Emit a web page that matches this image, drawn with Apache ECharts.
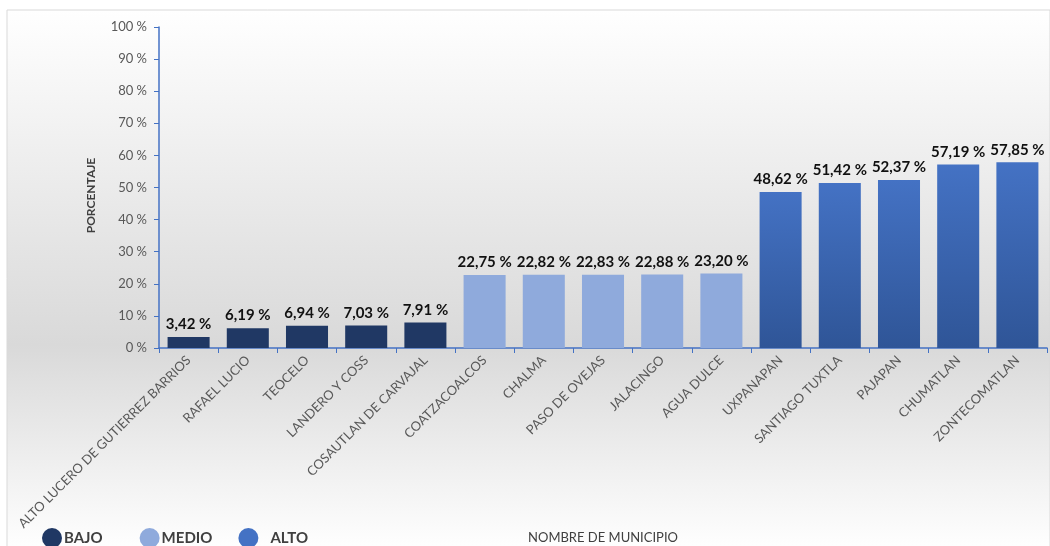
<!DOCTYPE html>
<html>
<head>
<meta charset="utf-8">
<script src="https://cdn.jsdelivr.net/npm/echarts@6/dist/echarts.min.js"></script>
<style>
  html, body { margin: 0; padding: 0; background: #fff; }
  #chart { width: 1050px; height: 546px; }
</style>
</head>
<body>
<div id="chart"></div>
<script>
const municipios = [
  'ALTO LUCERO DE GUTIERREZ BARRIOS', 'RAFAEL LUCIO', 'TEOCELO', 'LANDERO Y COSS',
  'COSAUTLAN DE CARVAJAL', 'COATZACOALCOS', 'CHALMA', 'PASO DE OVEJAS', 'JALACINGO',
  'AGUA DULCE', 'UXPANAPAN', 'SANTIAGO TUXTLA', 'PAJAPAN', 'CHUMATLAN', 'ZONTECOMATLAN',
]
const bajo = [3.42, 6.19, 6.94, 7.03, 7.91, null, null, null, null, null, null, null, null, null, null]
const medio = [null, null, null, null, null, 22.75, 22.82, 22.83, 22.88, 23.20, null, null, null, null, null]
const alto = [null, null, null, null, null, null, null, null, null, null, 48.62, 51.42, 52.37, 57.19, 57.85]
const yTicks = [0, 10, 20, 30, 40, 50, 60, 70, 80, 90, 100]

const font = 'Lato, "Open Sans", sans-serif'
const colors = {
  bajo: '#203864',
  medio: '#8faadc',
  alto: new echarts.graphic.LinearGradient(0, 0, 0, 1, [
    { offset: 0, color: '#4472c4' },
    { offset: 1, color: '#2f5597' },
  ]),
  altoLegend: '#4472c4',
}

function fmt(v) {
  return v.toFixed(2).replace('.', ',') + ' %'
}

function barSeries(name, data, color) {
  return {
    name,
    type: 'bar',
    stack: 'total',
    data,
    barWidth: '71%',
    itemStyle: { color },
    label: {
      show: true,
      position: 'top',
      distance: 5,
      fontFamily: font,
      fontWeight: 'bold',
      fontSize: 15,
      color: '#111',
      formatter: (p) => fmt(p.value),
    },
  }
}

const chart = echarts.init(document.getElementById('chart'))
chart.setOption({
  animation: false,
  graphic: [
    {
      type: 'rect',
      z: -10,
      silent: true,
      shape: { x: 7, y: 10, width: 1043, height: 540 },
      style: {
        stroke: '#d9d9d9',
        lineWidth: 1,
        fill: new echarts.graphic.LinearGradient(0, 0, 0, 1, [
          { offset: 0, color: '#ffffff' },
          { offset: 0.62, color: '#d9d9d9' },
          { offset: 1, color: '#ffffff' },
        ]),
      },
    },
  ],
  legend: {
    left: 37,
    top: 523,
    itemWidth: 20,
    itemHeight: 20,
    itemGap: 26,
    icon: 'circle',
    formatter: (name) => (name === 'BAJO' ? name + '   ' : name),
    data: [
      { name: 'BAJO', itemStyle: { color: colors.bajo } },
      { name: 'MEDIO', itemStyle: { color: colors.medio } },
      { name: 'ALTO', itemStyle: { color: colors.altoLegend }, textStyle: { padding: [0, 0, 0, 7] } },
    ],
    textStyle: { fontFamily: font, fontWeight: 'bold', fontSize: 15, color: '#404040', padding: [0, 0, 0, -3] },
  },
  grid: { left: 159, right: 3, top: 27, bottom: 198, containLabel: false, outerBoundsMode: 'none' },
  xAxis: {
    type: 'category',
    data: municipios,
    name: 'NOMBRE DE MUNICIPIO',
    nameLocation: 'middle',
    nameGap: 183,
    nameMoveOverlap: false,
    nameTextStyle: { fontFamily: font, fontSize: 13, color: '#404040' },
    axisLine: { lineStyle: { color: '#4472c4', width: 1.5 } },
    axisTick: { show: true, length: 5, lineStyle: { color: '#4472c4' } },
    axisLabel: { rotate: 45, interval: 0, fontFamily: font, fontSize: 13, color: '#595959', margin: 10 },
  },
  yAxis: {
    type: 'value',
    min: yTicks[0],
    max: yTicks[yTicks.length - 1],
    interval: yTicks[1] - yTicks[0],
    name: 'PORCENTAJE',
    nameLocation: 'middle',
    nameGap: 62,
    nameRotate: 90,
    nameMoveOverlap: false,
    nameTextStyle: { fontFamily: font, fontWeight: 'bold', fontSize: 12, color: '#404040', padding: [0, 16, 0, 0] },
    axisLine: { show: true, lineStyle: { color: '#4472c4', width: 1.5 } },
    axisTick: { show: true, length: 5, lineStyle: { color: '#4472c4' } },
    axisLabel: { fontFamily: font, fontSize: 13, color: '#595959', margin: 12, formatter: '{value} %' },
    splitLine: { show: false },
  },
  series: [
    barSeries('BAJO', bajo, colors.bajo),
    barSeries('MEDIO', medio, colors.medio),
    barSeries('ALTO', alto, colors.alto),
  ],
})
</script>
</body>
</html>
